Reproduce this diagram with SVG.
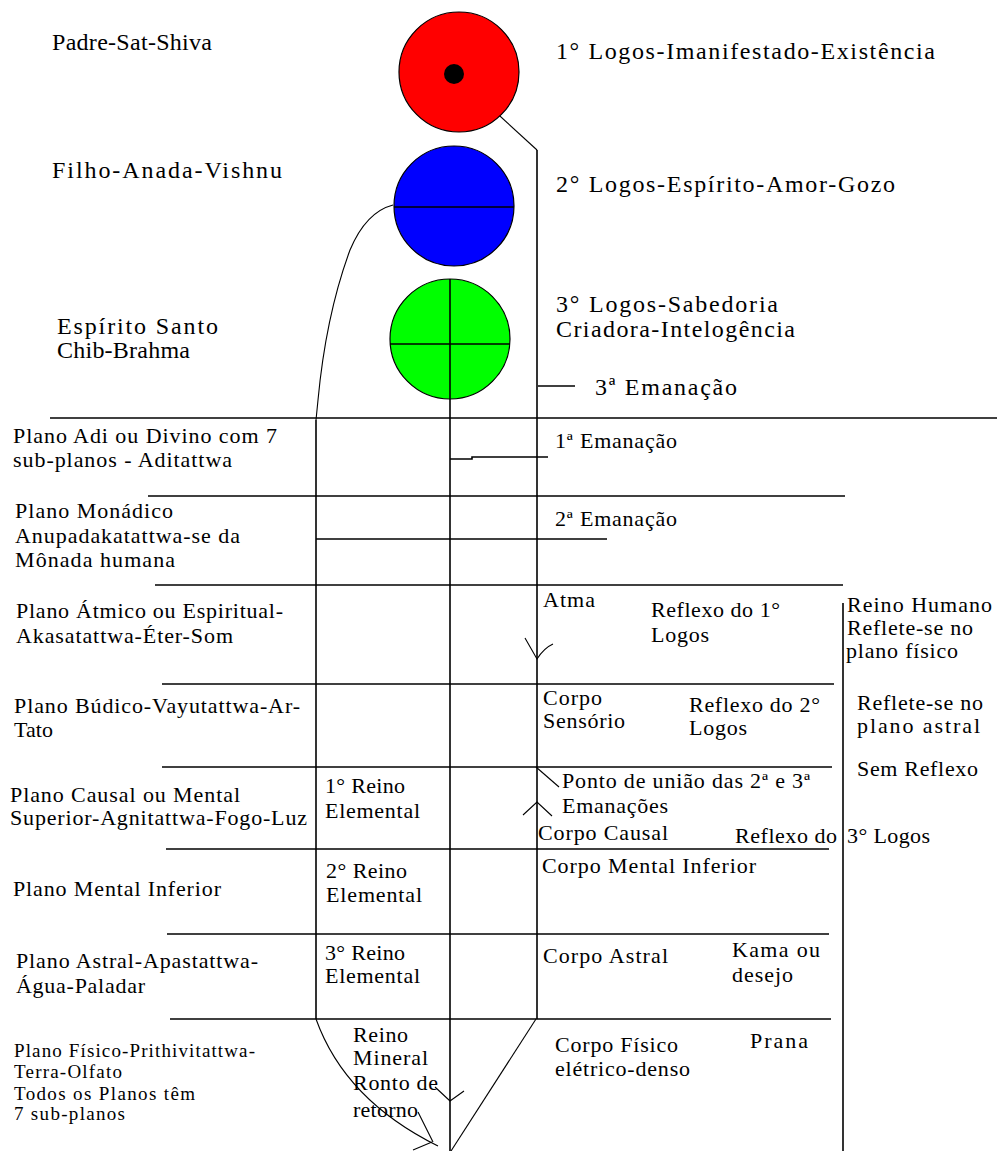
<svg xmlns="http://www.w3.org/2000/svg" width="997" height="1151" viewBox="0 0 997 1151" font-family="'Liberation Serif', 'DejaVu Serif', serif">
  <style>
    text { font-family: "Liberation Serif", "DejaVu Serif", "Times New Roman", serif; fill: #000; }
    .tl { font-size: 24px; }
    .t { font-size: 22px; }
    .ts { font-size: 19px; }
    .ln { stroke: #000; stroke-width: 1.6; fill: none; }
    .thin { stroke: #000; stroke-width: 1.1; fill: none; }
    .disc { stroke: #000; stroke-width: 1.2; }
  </style>
  <rect width="997" height="1151" fill="#fff"/>

  <!-- Connectors and plane boundaries -->
  <g id="connectors">
    <!-- plane boundaries -->
    <line class="ln" x1="50" y1="418" x2="997" y2="418"/>
    <line class="ln" x1="148" y1="496" x2="845" y2="496"/>
    <line class="ln" x1="155" y1="585" x2="843" y2="585"/>
    <line class="ln" x1="162" y1="684" x2="834" y2="684"/>
    <line class="ln" x1="162" y1="767" x2="832" y2="767"/>
    <line class="ln" x1="166" y1="849" x2="829" y2="849"/>
    <line class="ln" x1="167" y1="934" x2="829" y2="934"/>
    <line class="ln" x1="170" y1="1019" x2="831" y2="1019"/>

    <!-- emanation ticks -->
    <line class="ln" x1="538" y1="386" x2="575" y2="386"/>
    <polyline class="ln" points="450,459 472,459 472,457 548,457"/>
    <line class="ln" x1="316" y1="539" x2="607" y2="539"/>

    <!-- first emanation: from the central point down the right side -->
    <polyline class="thin" points="454,74 537,150"/>
    <line class="ln" x1="537" y1="150" x2="537" y2="1019"/>
    <line class="thin" x1="536" y1="1019" x2="451" y2="1151"/>

    <!-- second emanation: from the blue disc down the left side -->
    <path class="thin" d="M393,205 Q366,212 350,250 Q326,315 318,400 L316,420"/>
    <line class="ln" x1="316" y1="420" x2="316" y2="1019"/>
    <path class="thin" d="M316,1019 Q345,1100 438,1146"/>

    <!-- third emanation: central axis -->
    <line class="ln" x1="450" y1="280" x2="450" y2="1151"/>

    <!-- kingdom bracket -->
    <line class="ln" x1="843" y1="603" x2="843" y2="1151"/>

    <!-- arrowheads and pointers -->
    <path class="thin" d="M525,638 L537,659 Q544,648 553,644"/>
    <line class="thin" x1="536" y1="767" x2="559" y2="787"/>
    <path class="thin" d="M523,815 L537,802 L552,816"/>
    <path class="thin" d="M435,1087 L450,1101 L464,1091"/>
    <line class="thin" x1="418" y1="1112" x2="433" y2="1142"/>
    <line class="thin" x1="413" y1="1150" x2="432" y2="1142"/>
  </g>

  <!-- Logos discs -->
  <g id="logos-1">
    <circle class="disc" cx="459" cy="72" r="60" fill="#ff0000"/>
    <circle cx="454" cy="74" r="10" fill="#000"/>
  </g>
  <g id="logos-2">
    <circle class="disc" cx="454" cy="206" r="60" fill="#0000ff"/>
    <line class="ln" x1="394" y1="207" x2="514" y2="207"/>
  </g>
  <g id="logos-3">
    <circle class="disc" cx="450" cy="339" r="60" fill="#00ff00"/>
    <line class="ln" x1="390" y1="344" x2="510" y2="344"/>
    <line class="ln" x1="450" y1="279" x2="450" y2="399"/>
  </g>

  <!-- Trinity labels -->
  <g id="trinity-labels">
    <text class="tl" x="52" y="50" textLength="160">Padre-Sat-Shiva</text>
    <text class="tl" x="556" y="59" textLength="379">1° Logos-Imanifestado-Existência</text>
    <text class="tl" x="52" y="178" textLength="230">Filho-Anada-Vishnu</text>
    <text class="tl" x="556" y="192" textLength="339">2° Logos-Espírito-Amor-Gozo</text>
    <text class="tl" x="57" y="334" textLength="161">Espírito Santo</text>
    <text class="tl" x="57" y="358" textLength="133">Chib-Brahma</text>
    <text class="tl" x="556" y="312" textLength="222">3° Logos-Sabedoria</text>
    <text class="tl" x="556" y="337" textLength="239">Criadora-Intelogência</text>
    <text class="tl" x="595" y="395" textLength="142">3ª Emanação</text>
  </g>

  <!-- Plane names -->
  <g id="plane-adi">
    <text class="t" x="13" y="443" textLength="264">Plano Adi ou Divino com 7</text>
    <text class="t" x="13" y="467" textLength="219">sub-planos - Aditattwa</text>
    <text class="t" x="555" y="448" textLength="122">1ª Emanação</text>
  </g>
  <g id="plane-monadico">
    <text class="t" x="15" y="518" textLength="158">Plano Monádico</text>
    <text class="t" x="15" y="543" textLength="225">Anupadakatattwa-se da</text>
    <text class="t" x="15" y="567" textLength="160">Mônada humana</text>
    <text class="t" x="555" y="526" textLength="122">2ª Emanação</text>
  </g>
  <g id="plane-atmico">
    <text class="t" x="16" y="618" textLength="267">Plano Átmico ou Espiritual-</text>
    <text class="t" x="16" y="643" textLength="217">Akasatattwa-Éter-Som</text>
    <text class="t" x="543" y="607" textLength="52">Atma</text>
    <text class="t" x="651" y="617" textLength="129">Reflexo do 1°</text>
    <text class="t" x="651" y="642" textLength="58">Logos</text>
  </g>
  <g id="plane-budico">
    <text class="t" x="14" y="713" textLength="286">Plano Búdico-Vayutattwa-Ar-</text>
    <text class="t" x="14" y="737" textLength="39">Tato</text>
    <text class="t" x="543" y="705" textLength="59">Corpo</text>
    <text class="t" x="543" y="728" textLength="82">Sensório</text>
    <text class="t" x="689" y="712" textLength="131">Reflexo do 2°</text>
    <text class="t" x="689" y="735" textLength="58">Logos</text>
  </g>
  <g id="plane-causal">
    <text class="t" x="10" y="802" textLength="230">Plano Causal ou Mental</text>
    <text class="t" x="10" y="825" textLength="297">Superior-Agnitattwa-Fogo-Luz</text>
    <text class="t" x="325" y="793" textLength="80">1° Reino</text>
    <text class="t" x="325" y="818" textLength="95">Elemental</text>
    <text class="t" x="562" y="788" textLength="248">Ponto de união das 2ª e 3ª</text>
    <text class="t" x="562" y="813" textLength="106">Emanações</text>
    <text class="t" x="538" y="840" textLength="130">Corpo Causal</text>
    <text class="t" x="735" y="843" textLength="102">Reflexo do</text>
  </g>
  <g id="plane-mental-inferior">
    <text class="t" x="13" y="896" textLength="208">Plano Mental Inferior</text>
    <text class="t" x="326" y="878" textLength="81">2° Reino</text>
    <text class="t" x="326" y="902" textLength="96">Elemental</text>
    <text class="t" x="542" y="873" textLength="214">Corpo Mental Inferior</text>
  </g>
  <g id="plane-astral">
    <text class="t" x="16" y="968" textLength="242">Plano Astral-Apastattwa-</text>
    <text class="t" x="16" y="993" textLength="129">Água-Paladar</text>
    <text class="t" x="325" y="960" textLength="80">3° Reino</text>
    <text class="t" x="325" y="983" textLength="95">Elemental</text>
    <text class="t" x="543" y="963" textLength="125">Corpo Astral</text>
    <text class="t" x="732" y="957" textLength="88">Kama ou</text>
    <text class="t" x="732" y="982" textLength="61">desejo</text>
  </g>
  <g id="plane-fisico">
    <text class="ts" x="14" y="1057" textLength="241">Plano Físico-Prithivitattwa-</text>
    <text class="ts" x="14" y="1078" textLength="108">Terra-Olfato</text>
    <text class="ts" x="14" y="1100" textLength="181">Todos os Planos têm</text>
    <text class="ts" x="14" y="1120" textLength="111">7 sub-planos</text>
    <text class="t" x="353" y="1042" textLength="55">Reino</text>
    <text class="t" x="353" y="1065" textLength="75">Mineral</text>
    <text class="t" x="353" y="1090" textLength="85">Ronto de</text>
    <text class="t" x="353" y="1117" textLength="65">retorno</text>
    <text class="t" x="555" y="1052" textLength="123">Corpo Físico</text>
    <text class="t" x="555" y="1076" textLength="135">elétrico-denso</text>
    <text class="t" x="750" y="1048" textLength="58">Prana</text>
  </g>

  <!-- Kingdom reflections -->
  <g id="reflections">
    <text class="t" x="847" y="612" textLength="145">Reino Humano</text>
    <text class="t" x="847" y="635" textLength="126">Reflete-se no</text>
    <text class="t" x="846" y="658" textLength="112">plano físico</text>
    <text class="t" x="857" y="710" textLength="126">Reflete-se no</text>
    <text class="t" x="857" y="733" textLength="123">plano astral</text>
    <text class="t" x="857" y="776" textLength="121">Sem Reflexo</text>
    <text class="t" x="847" y="843" textLength="83">3° Logos</text>
  </g>
</svg>
